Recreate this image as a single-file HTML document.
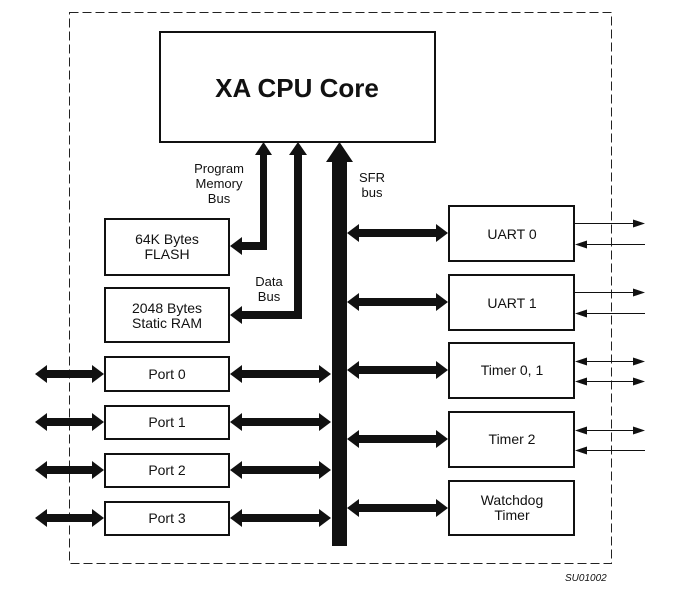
<!DOCTYPE html>
<html><head><style>
html,body{margin:0;padding:0;background:#fff;}
svg{display:block;}
text{font-family:"Liberation Sans",Arial,sans-serif;fill:#111;}
</style></head><body>
<svg width="675" height="589" viewBox="0 0 675 589" xmlns="http://www.w3.org/2000/svg">
<defs>
<path id="la" d="M35 0 L47 -9 L47 -4 L92 -4 L92 -9 L104 0 L92 9 L92 4 L47 4 L47 9Z" fill="#111"/>
<path id="ma" d="M230 0 L242 -9 L242 -4 L319 -4 L319 -9 L331 0 L319 9 L319 4 L242 4 L242 9Z" fill="#111"/>
<path id="ra" d="M347 0 L359 -9 L359 -4 L436 -4 L436 -9 L448 0 L436 9 L436 4 L359 4 L359 9Z" fill="#111"/>
<path id="ar" d="M645 0 L633 -4 L633 4Z" fill="#111"/>
<path id="al" d="M575 0 L587 -4 L587 4Z" fill="#111"/>
</defs>
<rect x="69.5" y="12.5" width="542" height="551" fill="none" stroke="#222" stroke-width="1" stroke-dasharray="9,4"/>
<rect x="160" y="32" width="275" height="110" fill="#fff" stroke="#111" stroke-width="2"/>
<text x="297" y="97" font-size="26" font-weight="bold" text-anchor="middle">XA CPU Core</text>

<path d="M230 246 L242 237 L242 242 L260 242 L260 155 L255 155 L263.5 142 L272 155 L267 155 L267 250 L242 250 L242 255 Z" fill="#111"/>
<path d="M230 315 L242 306 L242 311 L294 311 L294 155 L289 155 L298 142 L307 155 L302 155 L302 319 L242 319 L242 324 Z" fill="#111"/>
<path d="M332 546 L332 162 L326 162 L339.5 142 L353 162 L347 162 L347 546 Z" fill="#111"/>

<g font-size="13" text-anchor="middle">
<text x="219" y="173">Program</text><text x="219" y="188">Memory</text><text x="219" y="203">Bus</text>
<text x="372" y="182">SFR</text><text x="372" y="197">bus</text>
<text x="269" y="286">Data</text><text x="269" y="301">Bus</text>
</g>

<g fill="#fff" stroke="#111" stroke-width="2">
<rect x="105" y="219" width="124" height="56"/>
<rect x="105" y="288" width="124" height="54"/>
<rect x="105" y="357" width="124" height="34"/>
<rect x="105" y="406" width="124" height="33"/>
<rect x="105" y="454" width="124" height="33"/>
<rect x="105" y="502" width="124" height="33"/>
<rect x="449" y="206" width="125" height="55"/>
<rect x="449" y="275" width="125" height="55"/>
<rect x="449" y="343" width="125" height="55"/>
<rect x="449" y="412" width="125" height="55"/>
<rect x="449" y="481" width="125" height="54"/>
</g>
<g font-size="14" text-anchor="middle">
<text x="167" y="244">64K Bytes</text><text x="167" y="259">FLASH</text>
<text x="167" y="313">2048 Bytes</text><text x="167" y="328">Static RAM</text>
<text x="167" y="379">Port 0</text>
<text x="167" y="427">Port 1</text>
<text x="167" y="475">Port 2</text>
<text x="167" y="523">Port 3</text>
<text x="512" y="239">UART 0</text>
<text x="512" y="308">UART 1</text>
<text x="512" y="375">Timer 0, 1</text>
<text x="512" y="444">Timer 2</text>
<text x="512" y="505">Watchdog</text><text x="512" y="520">Timer</text>
</g>

<use href="#la" y="374"/><use href="#la" y="422"/><use href="#la" y="470"/><use href="#la" y="518"/>
<use href="#ma" y="374"/><use href="#ma" y="422"/><use href="#ma" y="470"/><use href="#ma" y="518"/>
<use href="#ra" y="233"/><use href="#ra" y="302"/><use href="#ra" y="370"/><use href="#ra" y="439"/><use href="#ra" y="508"/>

<g stroke="#111" stroke-width="1">
<line x1="574" y1="223.5" x2="640" y2="223.5"/><line x1="580" y1="244.5" x2="645" y2="244.5"/>
<line x1="574" y1="292.5" x2="640" y2="292.5"/><line x1="580" y1="313.5" x2="645" y2="313.5"/>
<line x1="580" y1="361.5" x2="640" y2="361.5"/><line x1="580" y1="381.5" x2="640" y2="381.5"/>
<line x1="580" y1="430.5" x2="640" y2="430.5"/><line x1="580" y1="450.5" x2="645" y2="450.5"/>
</g>
<use href="#ar" y="223.5"/><use href="#al" y="244.5"/>
<use href="#ar" y="292.5"/><use href="#al" y="313.5"/>
<use href="#ar" y="361.5"/><use href="#al" y="361.5"/>
<use href="#ar" y="381.5"/><use href="#al" y="381.5"/>
<use href="#ar" y="430.5"/><use href="#al" y="430.5"/>
<use href="#al" y="450.5"/>

<text x="565" y="581" font-size="10" font-style="italic">SU01002</text>
</svg>
</body></html>
